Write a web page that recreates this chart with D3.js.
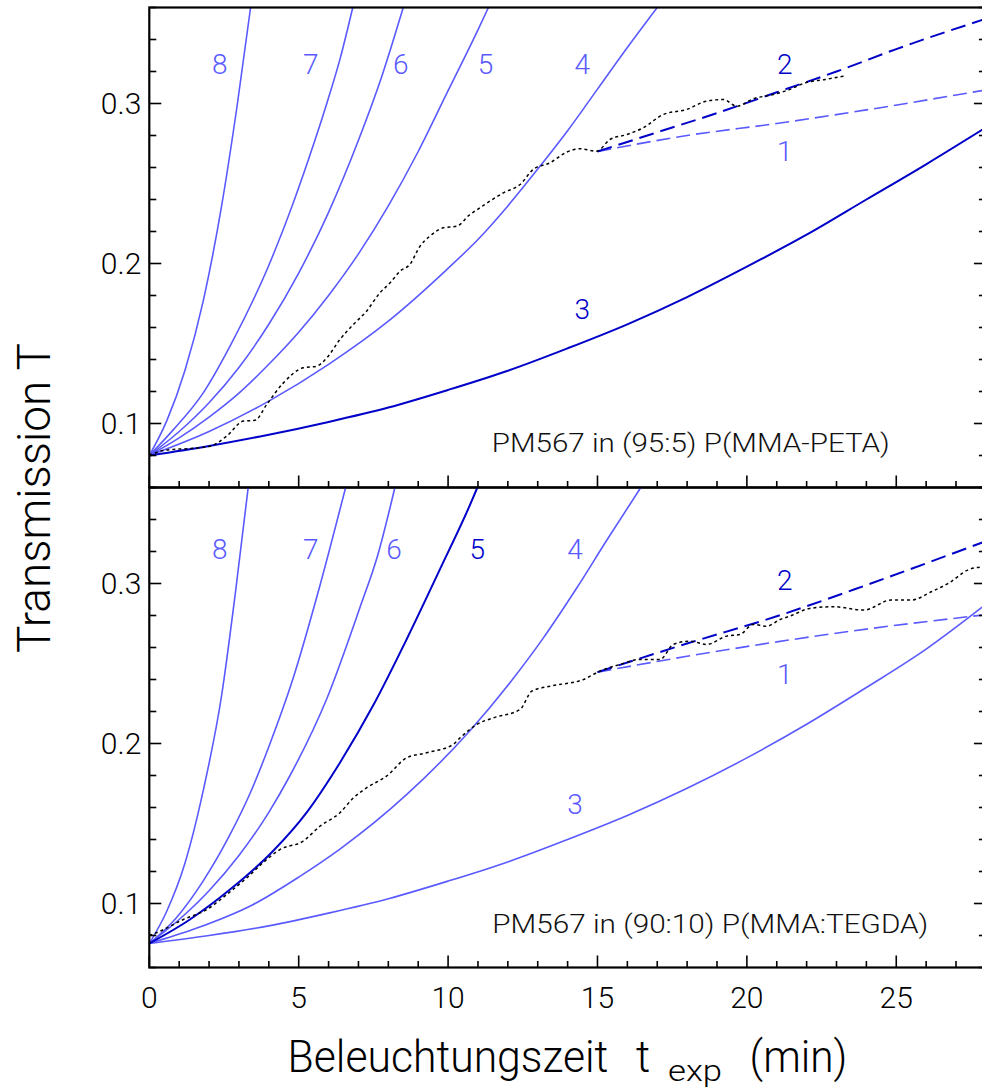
<!DOCTYPE html>
<html>
<head>
<meta charset="utf-8">
<script src="https://cdn.jsdelivr.net/npm/d3@7"></script>
<style>
  html, body { margin: 0; padding: 0; background: #fff; }
  svg { display: block; }
  text { font-family: Roboto, "Liberation Sans", Arial, sans-serif; font-weight: 300; }
</style>
</head>
<body>
<svg id="chart" width="982" height="1090"></svg>
<script>
// ---- data: time t (min) vs transmission T ----
const xTicksMajor = [0, 5, 10, 15, 20, 25];
const yTicksMajor = [0.1, 0.2, 0.3];
const yTickLabels = ["0.1", "0.2", "0.3"];
const curveNames = ["1", "2", "3", "4", "5", "6", "7", "8"];

// upper panel: PM567 in (95:5) P(MMA-PETA)
const upperCurve8 = [[0,0.080],[0.58,0.1015],[1.19,0.133],[1.81,0.177],[2.42,0.236],[2.95,0.300],[3.39,0.360]];
const upperCurve7 = [[0,0.080],[0.8,0.096],[1.8,0.119],[2.72,0.149],[3.98,0.198],[4.82,0.238],[5.49,0.274],[5.94,0.300],[6.4,0.329],[6.81,0.360]];
const upperCurve6 = [[0,0.080],[1,0.095],[2,0.113],[3,0.135],[4,0.162],[5,0.194],[6,0.232],[7,0.277],[7.8,0.318],[8.5,0.360]];
const upperCurve5 = [[0,0.080],[1,0.091],[2,0.104],[3,0.119],[4,0.137],[5,0.157],[6,0.180],[7,0.206],[8,0.236],[9,0.270],[10,0.308],[11,0.346],[11.35,0.360]];
const upperCurve4 = [[0,0.080],[2,0.095],[4,0.114],[6,0.137],[8,0.164],[10,0.197],[11,0.215],[12,0.236],[13,0.259],[14,0.283],[15,0.309],[16,0.335],[17,0.360]];
const upperCurve3 = [[0,0.080],[2,0.086],[4,0.093],[6,0.101],[8,0.110],[10,0.121],[12,0.133],[14,0.147],[16,0.162],[18,0.179],[20,0.198],[22,0.218],[24,0.240],[26,0.262],[28,0.285]];
const upperCurve2 = [[15,0.270],[17,0.282],[19,0.294],[21,0.307],[23,0.320],[25,0.334],[28,0.353]];
const upperCurve1 = [[15,0.270],[18,0.280],[21,0.2875],[24,0.296],[28,0.3085]];
const upperMeasured = [
  [0,0.080],[0.36,0.0827],[0.8,0.0838],[1.25,0.0842],[2.03,0.0858],[2.59,0.0921],[3.15,0.1015],[3.54,0.102],
  [3.93,0.1119],[4.49,0.1254],[5.15,0.1348],[5.6,0.1358],[5.94,0.141],[6.38,0.1525],[6.83,0.1619],[7.27,0.1702],
  [7.72,0.1817],[8.06,0.1879],[8.39,0.1952],[8.72,0.1994],[9.06,0.2108],[9.39,0.2171],[9.84,0.2223],[10.29,0.2233],
  [10.73,0.2306],[11.0,0.2340],[11.4,0.239],[11.85,0.2442],[12.41,0.2494],[12.85,0.2588],[13.41,0.2629],[13.97,0.2696],
  [14.41,0.2717],[14.97,0.2702],[15.42,0.2775],[15.98,0.2806],[16.53,0.2848],[17.2,0.2931],[17.99,0.2963],[18.65,0.3015],
  [19.21,0.3025],[19.66,0.2983],[20.21,0.3029],[20.88,0.3056],[21.44,0.3088],[21.95,0.3129],[22.62,0.315],[23.24,0.3171]
];

// lower panel: PM567 in (90:10) P(MMA:TEGDA)
const lowerCurve8 = [[0,0.075],[0.58,0.095],[1.19,0.125],[1.81,0.171],[2.42,0.230],[2.88,0.294],[3.31,0.360]];
const lowerCurve7 = [[0,0.075],[0.9,0.091],[1.8,0.114],[2.7,0.143],[3.4,0.170],[4.0,0.198],[4.8,0.240],[5.7,0.298],[6.57,0.360]];
const lowerCurve6 = [[0,0.075],[1,0.090],[2,0.108],[3,0.130],[4,0.157],[4.71,0.180],[5.94,0.228],[7.05,0.285],[7.65,0.318],[8.22,0.360]];
const lowerCurve5 = [[0,0.075],[1.36,0.090],[2.72,0.109],[4.15,0.133],[5.27,0.157],[6.38,0.188],[7.5,0.224],[8.61,0.265],[9.73,0.309],[10.73,0.349],[10.98,0.360]];
const lowerCurve4 = [[0,0.075],[1.5,0.084],[3.48,0.0994],[5,0.1165],[6.38,0.134],[8.61,0.168],[10.73,0.208],[12.07,0.238],[13.19,0.266],[14.3,0.297],[15.31,0.327],[16.45,0.360]];
const lowerCurve3 = [[0,0.075],[2,0.080],[4,0.086],[6,0.094],[8,0.103],[10,0.114],[12,0.126],[14,0.140],[16,0.155],[18,0.172],[20,0.191],[22,0.212],[24,0.235],[26,0.259],[28,0.287]];
const lowerCurve2 = [[15,0.2446],[18,0.2625],[21,0.2795],[24,0.299],[28,0.3265]];
const lowerCurve1 = [[15,0.2446],[18,0.2545],[21,0.2635],[24,0.2715],[28,0.2805]];
const lowerMeasured = [
  [0,0.080],[0.36,0.0827],[1.14,0.090],[1.92,0.0962],[2.59,0.1056],[3.26,0.116],[3.93,0.1275],[4.37,0.1337],
  [5.15,0.139],[5.71,0.1483],[6.38,0.1567],[6.83,0.166],[7.27,0.1723],[7.94,0.1796],[8.61,0.191],[9.28,0.1942],
  [10.17,0.1994],[10.4,0.2035],[10.73,0.2088],[10.96,0.2119],[11.51,0.216],[12.41,0.2213],[12.8,0.2327],[13.41,0.2358],
  [14.53,0.240],[15.08,0.2452],[15.75,0.2494],[16.42,0.2525],[17.09,0.2525],[17.54,0.2619],[18.1,0.264],[18.65,0.2619],
  [19.32,0.2671],[19.77,0.2681],[20.21,0.2744],[20.66,0.2733],[21.11,0.2775],[21.44,0.2796],[22.1,0.2844],[22.89,0.2855],
  [23.92,0.2834],[24.83,0.2897],[25.51,0.2897],[26.19,0.295],[26.76,0.3003],[27.44,0.3088],[27.87,0.3103]
];

// ---- layout ----
const LIGHT = "#5a5aff";
const DARK = "#0000c8";
const svg = d3.select("#chart");

const x = d3.scaleLinear().domain([0, 28]).range([149.3, 985.9]);
const yUpper = d3.scaleLinear().domain([0.06, 0.36]).range([487.5, 7.5]);
const yLower = d3.scaleLinear().domain([0.06, 0.36]).range([967.5, 487.5]);

const minorX = d3.range(0, 29, 1);
const minorY = d3.range(0.06, 0.3601, 0.02).map(v => +v.toFixed(2));
const isMajorY = d => yTicksMajor.some(v => Math.abs(v - d) < 1e-6);

function drawPanel(id, y, series, labels, note) {
  const [y0, y1] = y.range();
  const g = svg.append("g");

  g.append("clipPath").attr("id", id)
    .append("rect")
    .attr("x", x(0)).attr("y", y1)
    .attr("width", x(28) - x(0)).attr("height", y0 - y1);

  const plot = g.append("g").attr("clip-path", `url(#${id})`);
  const line = d3.line()
    .x(d => x(d[0])).y(d => y(d[1]))
    .curve(d3.curveMonotoneX);

  series.forEach(s => {
    plot.append("path")
      .datum(s.data)
      .attr("fill", "none")
      .attr("stroke", s.color)
      .attr("stroke-width", s.width)
      .attr("stroke-dasharray", s.dash || null)
      .attr("d", line);
  });

  // curve numbers
  labels.forEach(l => {
    g.append("text")
      .attr("x", x(l.t)).attr("y", y(l.T))
      .attr("text-anchor", "middle")
      .attr("dominant-baseline", "central")
      .attr("font-size", 28)
      .attr("fill", l.color)
      .text(l.name);
  });

  // sample note
  g.append("text")
    .attr("x", x(note.t)).attr("y", y(note.T))
    .attr("dominant-baseline", "central")
    .attr("font-size", 26)
    .attr("fill", "#111")
    .attr("textLength", note.len)
    .attr("lengthAdjust", "spacingAndGlyphs")
    .text(note.text);

  // ticks: left, right (inward) and bottom (pointing up)
  const ticks = g.append("g").attr("stroke", "#000").attr("stroke-width", 1.6);
  ticks.selectAll(".yl").data(minorY).join("line")
    .attr("x1", x(0)).attr("x2", d => x(0) + (isMajorY(d) ? 12 : 7))
    .attr("y1", d => y(d)).attr("y2", d => y(d));
  ticks.selectAll(".yr").data(minorY).join("line")
    .attr("x1", x(28)).attr("x2", d => x(28) - (isMajorY(d) ? 12 : 7))
    .attr("y1", d => y(d)).attr("y2", d => y(d));
  ticks.selectAll(".xb").data(minorX).join("line")
    .attr("x1", d => x(d)).attr("x2", d => x(d))
    .attr("y1", y0).attr("y2", d => y0 - (xTicksMajor.includes(d) ? 12 : 6.5));

  // frame
  g.append("rect")
    .attr("x", x(0)).attr("y", y1)
    .attr("width", x(28) - x(0)).attr("height", y0 - y1)
    .attr("fill", "none").attr("stroke", "#000").attr("stroke-width", 2.2);

  // y tick labels
  g.selectAll(".ylab").data(yTicksMajor).join("text")
    .attr("x", x(0) - 8).attr("y", d => y(d))
    .attr("text-anchor", "end")
    .attr("dominant-baseline", "central")
    .attr("font-size", 30)
    .attr("fill", "#000")
    .text((d, i) => yTickLabels[i]);
}

drawPanel("clipUpper", yUpper, [
  { data: upperCurve8, color: LIGHT, width: 1.6 },
  { data: upperCurve7, color: LIGHT, width: 1.6 },
  { data: upperCurve6, color: LIGHT, width: 1.6 },
  { data: upperCurve5, color: LIGHT, width: 1.6 },
  { data: upperCurve4, color: LIGHT, width: 1.6 },
  { data: upperCurve3, color: DARK, width: 2 },
  { data: upperCurve1, color: LIGHT, width: 1.6, dash: "14,6" },
  { data: upperCurve2, color: DARK, width: 2, dash: "15,7" },
  { data: upperMeasured, color: "#000", width: 1.5, dash: "3,3" }
], [
  { name: curveNames[7], t: 2.36, T: 0.3245, color: LIGHT },
  { name: curveNames[6], t: 5.40, T: 0.3245, color: LIGHT },
  { name: curveNames[5], t: 8.42, T: 0.3245, color: LIGHT },
  { name: curveNames[4], t: 11.25, T: 0.3245, color: LIGHT },
  { name: curveNames[3], t: 14.49, T: 0.3245, color: LIGHT },
  { name: curveNames[1], t: 21.27, T: 0.3245, color: DARK },
  { name: curveNames[0], t: 21.27, T: 0.2697, color: LIGHT },
  { name: curveNames[2], t: 14.49, T: 0.1712, color: DARK }
], { text: "PM567 in (95:5) P(MMA-PETA)", t: 11.46, T: 0.0876, len: 398 });

drawPanel("clipLower", yLower, [
  { data: lowerCurve8, color: LIGHT, width: 1.6 },
  { data: lowerCurve7, color: LIGHT, width: 1.6 },
  { data: lowerCurve6, color: LIGHT, width: 1.6 },
  { data: lowerCurve4, color: LIGHT, width: 1.6 },
  { data: lowerCurve3, color: LIGHT, width: 1.6 },
  { data: lowerCurve5, color: DARK, width: 2 },
  { data: lowerCurve1, color: LIGHT, width: 1.6, dash: "14,6" },
  { data: lowerCurve2, color: DARK, width: 2, dash: "15,7" },
  { data: lowerMeasured, color: "#000", width: 1.5, dash: "3,3" }
], [
  { name: curveNames[7], t: 2.36, T: 0.3213, color: LIGHT },
  { name: curveNames[6], t: 5.40, T: 0.3213, color: LIGHT },
  { name: curveNames[5], t: 8.19, T: 0.3213, color: LIGHT },
  { name: curveNames[4], t: 10.98, T: 0.3213, color: DARK },
  { name: curveNames[3], t: 14.25, T: 0.3213, color: LIGHT },
  { name: curveNames[1], t: 21.27, T: 0.3019, color: DARK },
  { name: curveNames[0], t: 21.27, T: 0.2429, color: LIGHT },
  { name: curveNames[2], t: 14.25, T: 0.1617, color: LIGHT }
], { text: "PM567 in (90:10) P(MMA:TEGDA)", t: 11.48, T: 0.0872, len: 436 });

// x tick labels
svg.selectAll(".xlab").data(xTicksMajor).join("text")
  .attr("x", d => x(d)).attr("y", 1008)
  .attr("text-anchor", "middle")
  .attr("font-size", 30)
  .attr("fill", "#000")
  .text(d => d);

// axis titles
const xt = svg.append("g").attr("fill", "#000");
xt.append("text").attr("x", 287.6).attr("y", 1071.5).attr("font-size", 44)
  .attr("textLength", 320.7).attr("lengthAdjust", "spacingAndGlyphs").text("Beleuchtungszeit");
xt.append("text").attr("x", 636).attr("y", 1071.5).attr("font-size", 44)
  .text("t");
xt.append("text").attr("x", 668).attr("y", 1081).attr("font-size", 30)
  .attr("textLength", 54).attr("lengthAdjust", "spacingAndGlyphs").text("exp");
xt.append("text").attr("x", 749.6).attr("y", 1071.5).attr("font-size", 44)
  .attr("textLength", 97.8).attr("lengthAdjust", "spacingAndGlyphs").text("(min)");

svg.append("text")
  .attr("transform", "translate(50,498) rotate(-90)")
  .attr("text-anchor", "middle")
  .attr("font-size", 46)
  .attr("fill", "#000")
  .attr("textLength", 310)
  .attr("lengthAdjust", "spacingAndGlyphs")
  .text("Transmission  T");
</script>
</body>
</html>
